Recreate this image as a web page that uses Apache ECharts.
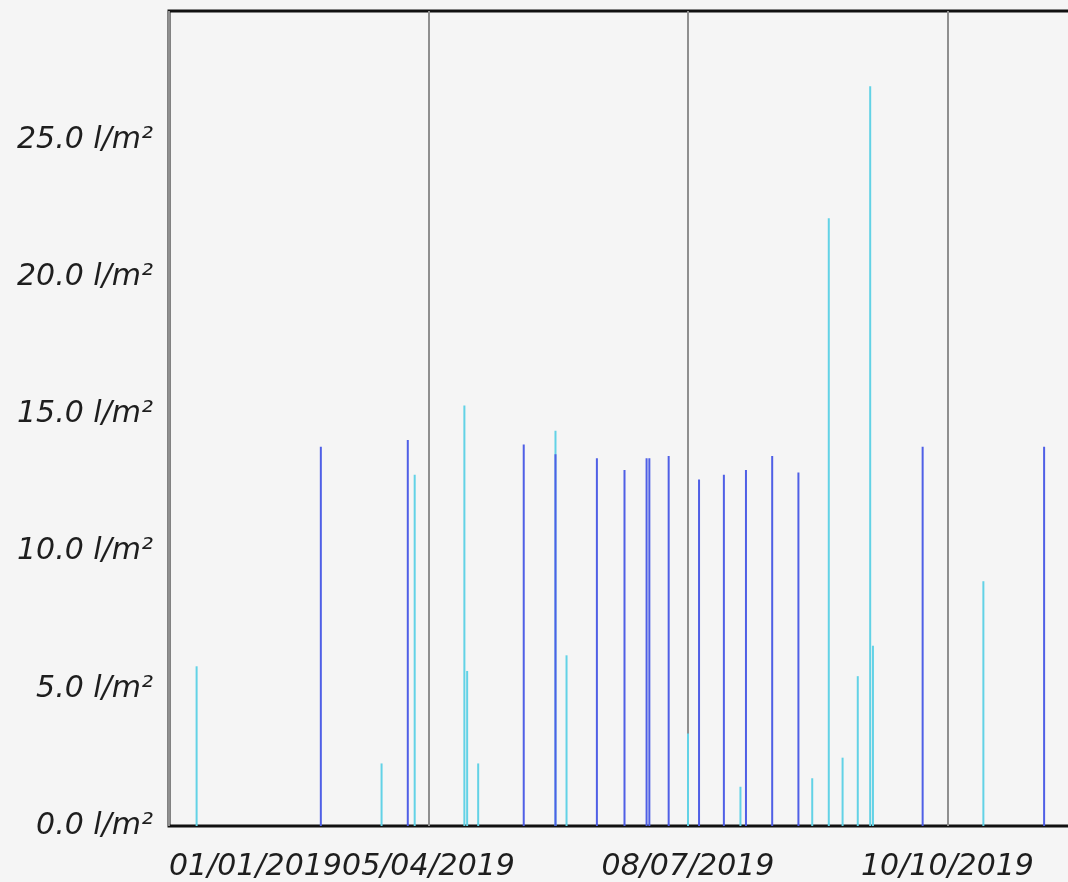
<!DOCTYPE html>
<html>
<head>
<meta charset="utf-8">
<script src="https://cdn.jsdelivr.net/npm/echarts@6/dist/echarts.min.js"></script>
<style>
html,body{margin:0;padding:0;background:#f5f5f5;}
#chart{width:1068px;height:882px;}
</style>
</head>
<body>
<div id="chart"></div>
<script>
// ---- data ----
const baseDate = '2019-01-01';
const blueDates = ['2019-02-25','2019-03-28T12:00','2019-05-09T12:00','2019-05-21','2019-06-05','2019-06-15',
  '2019-06-23','2019-06-24','2019-07-01','2019-07-12','2019-07-21','2019-07-29','2019-08-07T12:00',
  '2019-08-17','2019-10-01','2019-11-14'];
const blueValues = [13.82,14.07,13.9,13.55,13.4,12.97,13.4,13.4,13.48,12.63,12.8,12.97,13.48,12.88,13.82,13.82];
const cyanDates = ['2019-01-11','2019-03-19','2019-03-31','2019-04-18','2019-04-19','2019-04-23','2019-05-21',
  '2019-05-25','2019-07-08','2019-07-27','2019-08-22','2019-08-28','2019-09-02','2019-09-07T12:00',
  '2019-09-12','2019-09-13','2019-10-23'];
const cyanValues = [5.82,2.28,12.8,15.32,5.65,2.28,14.4,6.22,3.37,1.43,1.74,22.15,2.49,5.46,26.96,6.57,8.92];
const unit = ' l/m²';

// ---- helpers ----
const DAY = 86400000;
function toMs(s){ return Date.parse(s.length === 10 ? s + 'T00:00:00Z' : s + ':00Z'); }
const base = toMs(baseDate);
function dayOf(s){ return (toMs(s) - base) / DAY; }
function fmtDay(v){
  const d = new Date(base + v * DAY);
  const p = n => String(n).padStart(2, '0');
  return p(d.getUTCDate()) + '/' + p(d.getUTCMonth() + 1) + '/' + d.getUTCFullYear();
}
const blueData = blueDates.map((d, i) => [dayOf(d), blueValues[i]]);
const cyanData = cyanDates.map((d, i) => [dayOf(d), cyanValues[i]]);

const labelFont = { fontFamily: 'DejaVu Sans', fontStyle: 'italic', fontSize: 30, color: '#1e1e1e' };

const chart = echarts.init(document.getElementById('chart'), null, { renderer: 'canvas' });
chart.setOption({
  backgroundColor: '#f5f5f5',
  animation: false,
  grid: { left: 169, width: 911, top: 11, bottom: 56, outerBoundsMode: 'none', containLabel: false,
          show: true, borderColor: '#111', borderWidth: 3, backgroundColor: 'transparent' },
  xAxis: {
    type: 'value', min: 0, max: 330, interval: 94,
    axisLine: { show: false }, axisTick: { show: false },
    splitLine: { show: true, lineStyle: { color: '#8f8f8f', width: 2 } },
    axisLabel: Object.assign({ formatter: fmtDay, margin: 26, alignMinLabel: 'left', showMinLabel: true,
                               showMaxLabel: false, hideOverlap: false }, labelFont)
  },
  yAxis: {
    type: 'value', min: 0, max: 29.7, interval: 5,
    axisLine: { show: false }, axisTick: { show: false },
    splitLine: { show: false },
    axisLabel: Object.assign({ formatter: v => v.toFixed(1) + unit, margin: 16, showMaxLabel: false }, labelFont)
  },
  series: [
    { type: 'bar', name: 'cyan', data: cyanData, barWidth: 2, barGap: '-100%', itemStyle: { color: '#62d2e6' } },
    { type: 'bar', name: 'blue', data: blueData, barWidth: 2, barGap: '-100%', itemStyle: { color: '#4f5fe6' } }
  ]
});
</script>
</body>
</html>
